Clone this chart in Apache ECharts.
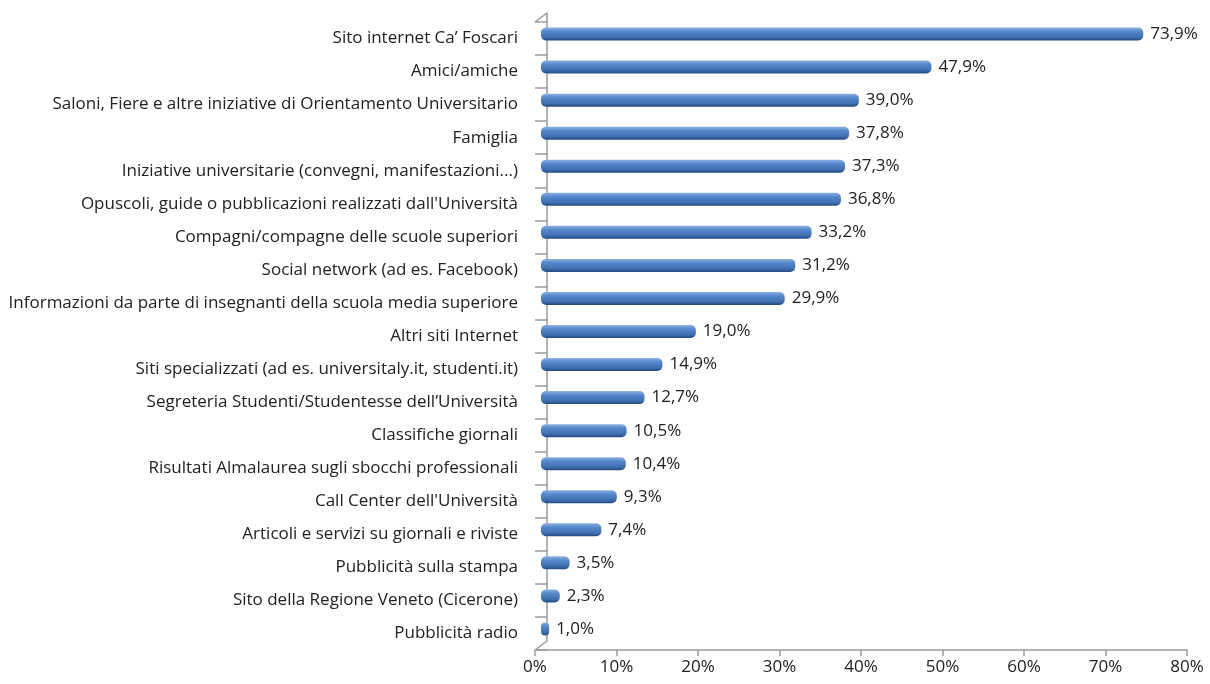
<!DOCTYPE html>
<html>
<head>
<meta charset="utf-8">
<script src="https://cdn.jsdelivr.net/npm/echarts@6/dist/echarts.min.js"></script>
<style>
  html,body{margin:0;padding:0;background:#fff;}
  #main{width:1210px;height:684px;}
</style>
</head>
<body>
<div id="main"></div>
<script>
var categories=[
  'Sito internet Ca\u2019 Foscari',
  'Amici/amiche',
  'Saloni, Fiere e altre iniziative di Orientamento Universitario',
  'Famiglia',
  'Iniziative universitarie (convegni, manifestazioni...)',
  "Opuscoli, guide o pubblicazioni realizzati dall'Università",
  'Compagni/compagne delle scuole superiori',
  'Social network (ad es. Facebook)',
  'Informazioni da parte di insegnanti della scuola media superiore',
  'Altri siti Internet',
  'Siti specializzati (ad es. universitaly.it, studenti.it)',
  'Segreteria Studenti/Studentesse dell\u2019Università',
  'Classifiche giornali',
  'Risultati Almalaurea sugli sbocchi professionali',
  "Call Center dell'Università",
  'Articoli e servizi su giornali e riviste',
  'Pubblicità sulla stampa',
  'Sito della Regione Veneto (Cicerone)',
  'Pubblicità radio'
];
var values=[73.9,47.9,39.0,37.8,37.3,36.8,33.2,31.2,29.9,19.0,14.9,12.7,10.5,10.4,9.3,7.4,3.5,2.3,1.0];
var xTicks=[0,10,20,30,40,50,60,70,80];

var FONT='Open Sans';
var myChart=echarts.init(document.getElementById('main'));

var barColor=new echarts.graphic.LinearGradient(0,0,0,1,[
  {offset:0,color:'#8db1e0'},
  {offset:0.3,color:'#5688cc'},
  {offset:0.75,color:'#3f6fb0'},
  {offset:1,color:'#24497f'}
]);
var axisGrey={color:'#9a9a9a',width:1.5};

var option={
  backgroundColor:'#fff',
  animation:false,
  //piccole diagonali del "pavimento" 3D
  graphic:[
    {type:'line',shape:{x1:535,y1:22,x2:547,y2:13},style:{stroke:'#9a9a9a',lineWidth:1.5}},
    {type:'line',shape:{x1:535,y1:650,x2:547,y2:641},style:{stroke:'#9a9a9a',lineWidth:1.5}}
  ],
  grid:[
    //front: axis labels
    {left:535,right:23,top:22,bottom:34},
    //middle: bars
    {left:541,right:17,top:17.5,bottom:38.5},
    //back wall
    {left:547,right:11,top:13,bottom:43}
  ],
  xAxis:[
    {gridIndex:0,type:'value',min:xTicks[0],max:xTicks[xTicks.length-1],interval:10,
      axisLine:{show:true,lineStyle:axisGrey},
      axisTick:{show:true,length:6,lineStyle:axisGrey},
      axisLabel:{formatter:'{value}%',color:'#222',fontFamily:FONT,fontSize:17,margin:9},
      splitLine:{show:false}},
    {gridIndex:1,type:'value',min:0,max:80,show:false},
    {gridIndex:2,type:'value',min:0,max:80,show:false}
  ],
  yAxis:[
    {gridIndex:0,type:'category',data:categories,inverse:true,
      axisLine:{show:false},
      axisTick:{show:true,inside:true,length:12,lineStyle:axisGrey},
      axisLabel:{color:'#222',fontFamily:FONT,fontSize:17,margin:17}},
    {gridIndex:1,type:'category',data:categories,inverse:true,show:false},
    {gridIndex:2,type:'category',data:categories,inverse:true,
      axisLine:{show:true,lineStyle:axisGrey},
      axisTick:{show:false},axisLabel:{show:false}}
  ],
  series:[{
    type:'bar',
    xAxisIndex:1,
    yAxisIndex:1,
    data:values,
    barWidth:13,
    itemStyle:{color:barColor,borderRadius:[5,5,5,5]},
    label:{show:true,position:'right',distance:7,color:'#222',fontFamily:FONT,fontSize:17,
      formatter:function(p){return p.value.toFixed(1).replace('.',',')+'%';}}
  }]
};
myChart.setOption(option);
</script>
</body>
</html>
